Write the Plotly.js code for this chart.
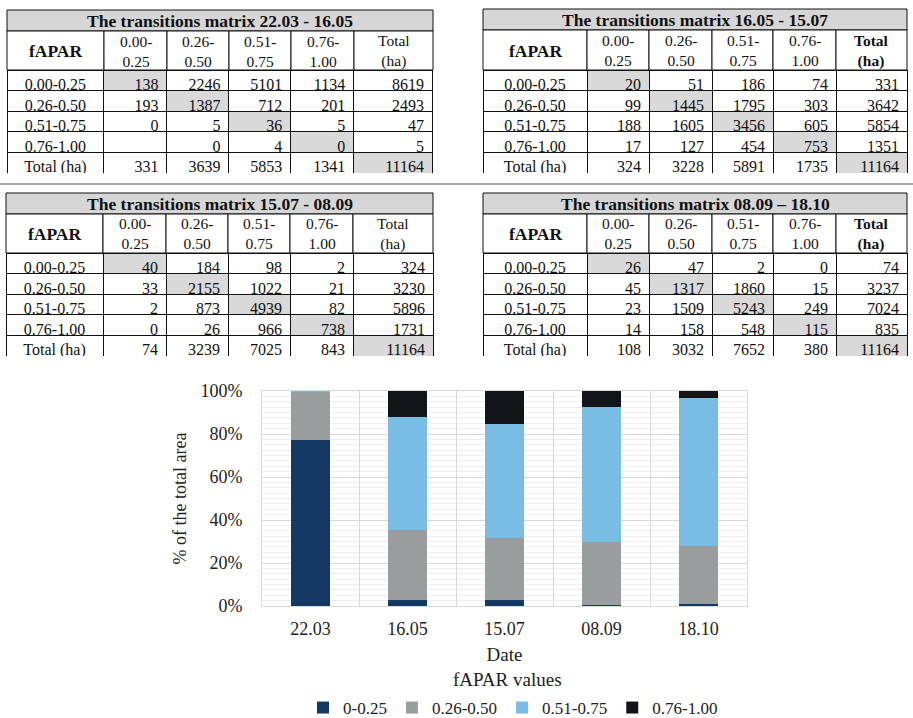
<!DOCTYPE html>
<html>
<head>
<meta charset="utf-8">
<script src="https://cdn.plot.ly/plotly-3.0.1.min.js"></script>
<style>html,body{margin:0;padding:0;background:#fff;}#chart{width:913px;height:718px;}</style>
</head>
<body>
<div id="chart"></div>
<script>
// ---------- DATA ----------
const colHeads = ["0.00-<br>0.25", "0.26-<br>0.50", "0.51-<br>0.75", "0.76-<br>1.00"];
const rowLabels = ["0.00-0.25", "0.26-0.50", "0.51-0.75", "0.76-1.00", "Total (ha)"];

const t1Title = "The transitions matrix 22.03 - 16.05";
const t1_r1 = [138, 2246, 5101, 1134, 8619];
const t1_r2 = [193, 1387, 712, 201, 2493];
const t1_r3 = [0, 5, 36, 5, 47];
const t1_r4 = ["", 0, 4, 0, 5];
const t1_tot = [331, 3639, 5853, 1341, 11164];

const t2Title = "The transitions matrix 16.05 - 15.07";
const t2_r1 = [20, 51, 186, 74, 331];
const t2_r2 = [99, 1445, 1795, 303, 3642];
const t2_r3 = [188, 1605, 3456, 605, 5854];
const t2_r4 = [17, 127, 454, 753, 1351];
const t2_tot = [324, 3228, 5891, 1735, 11164];

const t3Title = "The transitions matrix 15.07 - 08.09";
const t3_r1 = [40, 184, 98, 2, 324];
const t3_r2 = [33, 2155, 1022, 21, 3230];
const t3_r3 = [2, 873, 4939, 82, 5896];
const t3_r4 = [0, 26, 966, 738, 1731];
const t3_tot = [74, 3239, 7025, 843, 11164];

const t4Title = "The transitions matrix 08.09 \u2013 18.10";
const t4_r1 = [26, 47, 2, 0, 74];
const t4_r2 = [45, 1317, 1860, 15, 3237];
const t4_r3 = [23, 1509, 5243, 249, 7024];
const t4_r4 = [14, 158, 548, 115, 835];
const t4_tot = [108, 3032, 7652, 380, 11164];

// chart data (ha per fAPAR class at each date)
const dates = ["22.03", "16.05", "15.07", "08.09", "18.10"];
const classNames = ["0-0.25", "0.26-0.50", "0.51-0.75", "0.76-1.00"];
const area_000_025 = [8619, 331, 324, 74, 108];
const area_026_050 = [2493, 3639, 3228, 3239, 3032];
const area_051_075 = [47, 5853, 5891, 7025, 7652];
const area_076_100 = [5, 1341, 1735, 843, 380];
const classColors = ["#143a64", "#9a9d9e", "#79bde4", "#121417"];

// ---------- BUILD ----------
const W = 913, H = 718;
const FONT = "Liberation Serif, Times New Roman, serif";
const GRAYCELL = "#d9d9d9";
const INK = "#111";
const TXT = "#222";

const traces = [];
const shapes = [];
const annotations = [];

function px2x(px) { return px / W; }
function px2y(py) { return 1 - py / H; }

function addTable(title, rows, x0, x1, yTitle, yHead, yRows, yBot, widths, boldTotal) {
  const sumW = widths.reduce((a, b) => a + b, 0);
  const edges = [x0];
  widths.forEach(w => edges.push(edges[edges.length - 1] + (x1 - x0) * w / sumW));

  // title row (merged cell)
  shapes.push({type: "rect", xref: "paper", yref: "paper",
    x0: px2x(x0), x1: px2x(x1), y0: px2y(yHead), y1: px2y(yTitle),
    fillcolor: "#d6d6d6", line: {color: INK, width: 1}});
  annotations.push({xref: "paper", yref: "paper", x: px2x((x0 + x1) / 2), y: px2y((yTitle + yHead) / 2 + 0.5),
    text: "<b>" + title + "</b>", showarrow: false, xanchor: "center", yanchor: "middle",
    font: {family: FONT, size: 17.5, color: INK}});

  // header row (two-line header cells)
  const totHead = boldTotal ? "<b>Total</b><br><b>(ha)</b>" : "Total<br>(ha)";
  const heads = ["<b>fAPAR</b>"].concat(colHeads).concat([totHead]);
  heads.forEach((h, i) => {
    shapes.push({type: "rect", xref: "paper", yref: "paper",
      x0: px2x(edges[i]), x1: px2x(edges[i + 1]), y0: px2y(yRows), y1: px2y(yHead),
      fillcolor: "#ffffff", line: {color: INK, width: 1}});
    annotations.push({xref: "paper", yref: "paper", x: px2x((edges[i] + edges[i + 1]) / 2),
      y: px2y((yHead + yRows) / 2 + 0.5), text: h, showarrow: false, xanchor: "center", yanchor: "middle",
      font: {family: FONT, size: i === 0 ? 17.5 : 15.5, color: INK}});
  });

  // data rows: first row goes in the table header slot, the rest in cells
  const cols = [rowLabels.slice()];
  for (let c = 0; c < 5; c++) cols.push(rows.map(r => r[c]));
  const fillFor = (ci, ri) => {
    if (ci >= 1 && ci <= 4 && ri === ci - 1) return GRAYCELL;
    if (ci === 5 && ri === 4) return GRAYCELL;
    return "#ffffff";
  };
  const rowH = (yBot - yRows) / 5;
  const aligns = ["center", "right", "right", "right", "right", "right"];
  const fnt = {family: FONT, size: 16, color: INK};
  traces.push({
    type: "table",
    domain: {x: [px2x(x0), px2x(x1)], y: [px2y(yBot), px2y(yRows)]},
    columnwidth: widths,
    header: {
      values: cols.map(col => [col[0]]),
      align: aligns, height: rowH,
      fill: {color: cols.map((col, ci) => fillFor(ci, 0))},
      line: {color: INK, width: 1},
      font: fnt
    },
    cells: {
      values: cols.map(col => col.slice(1)),
      align: aligns,
      height: rowH,
      fill: {color: cols.map((col, ci) => col.slice(1).map((v, r) => fillFor(ci, r + 1)))},
      line: {color: INK, width: 1},
      font: fnt
    }
  });
}

addTable(t1Title, [t1_r1, t1_r2, t1_r3, t1_r4, t1_tot], 7, 433, 10, 31, 70, 173, [97, 63, 62, 62, 63, 79], false);
addTable(t2Title, [t2_r1, t2_r2, t2_r3, t2_r4, t2_tot], 483, 907, 9, 30, 70, 173, [104, 62, 63, 61, 63, 71], true);
addTable(t3Title, [t3_r1, t3_r2, t3_r3, t3_r4, t3_tot], 6, 433, 193, 214, 253, 356, [97, 63, 62, 62, 63, 80], false);
addTable(t4Title, [t4_r1, t4_r2, t4_r3, t4_r4, t4_tot], 483, 907, 193, 214, 253, 356, [104, 62, 63, 61, 63, 71], true);

// separator line
shapes.push({type: "line", xref: "paper", yref: "paper", x0: 0, x1: 1, y0: px2y(184), y1: px2y(184),
  line: {color: "#aaaaaa", width: 2}});

const seriesVals = [area_000_025, area_026_050, area_051_075, area_076_100];
seriesVals.forEach((vals, i) => {
  traces.push({type: "bar", x: dates, y: vals, name: classNames[i],
    marker: {color: classColors[i], line: {width: 0}}, hoverinfo: "skip"});
});

// legend title
annotations.push({xref: "paper", yref: "paper", x: px2x(508), y: px2y(679), text: "fAPAR values",
  showarrow: false, xanchor: "center", yanchor: "middle", font: {family: FONT, size: 19, color: TXT}});

const layout = {
  width: W, height: H,
  margin: {l: 0, r: 0, t: 0, b: 0, pad: 0, autoexpand: false},
  paper_bgcolor: "#ffffff", plot_bgcolor: "#ffffff",
  font: {family: FONT, size: 15, color: TXT},
  barmode: "stack", barnorm: "percent", bargap: 0.6,
  showlegend: true,
  legend: {orientation: "h", x: px2x(513), xanchor: "center", y: px2y(708), yanchor: "middle",
    traceorder: "normal", font: {family: FONT, size: 17, color: TXT}, itemwidth: 30},
  xaxis: {domain: [px2x(262), px2x(747)], type: "category", tickson: "boundaries", showgrid: true, gridcolor: "#d9d9d9",
    ticks: "", showline: true, linecolor: "#d9d9d9", mirror: true,
    tickfont: {family: FONT, size: 18, color: TXT}, ticklabelstandoff: 6,
    title: {text: "Date", font: {family: FONT, size: 19, color: TXT}, standoff: 10}},
  yaxis: {domain: [px2y(606), px2y(391)], range: [0, 100], dtick: 20, ticksuffix: "%", showgrid: true, gridcolor: "#d9d9d9",
    zeroline: false, showline: true, linecolor: "#d9d9d9", mirror: true, ticks: "",
    minor: {dtick: 2.5, showgrid: true, gridcolor: "#efefef"},
    tickfont: {family: FONT, size: 18, color: TXT}, ticklabelstandoff: 15,
    title: {text: "% of the total area", font: {family: FONT, size: 18, color: TXT}, standoff: 9}},
  shapes: shapes,
  annotations: annotations
};

Plotly.newPlot("chart", traces, layout, {displayModeBar: false, staticPlot: true});
</script>
</body>
</html>
